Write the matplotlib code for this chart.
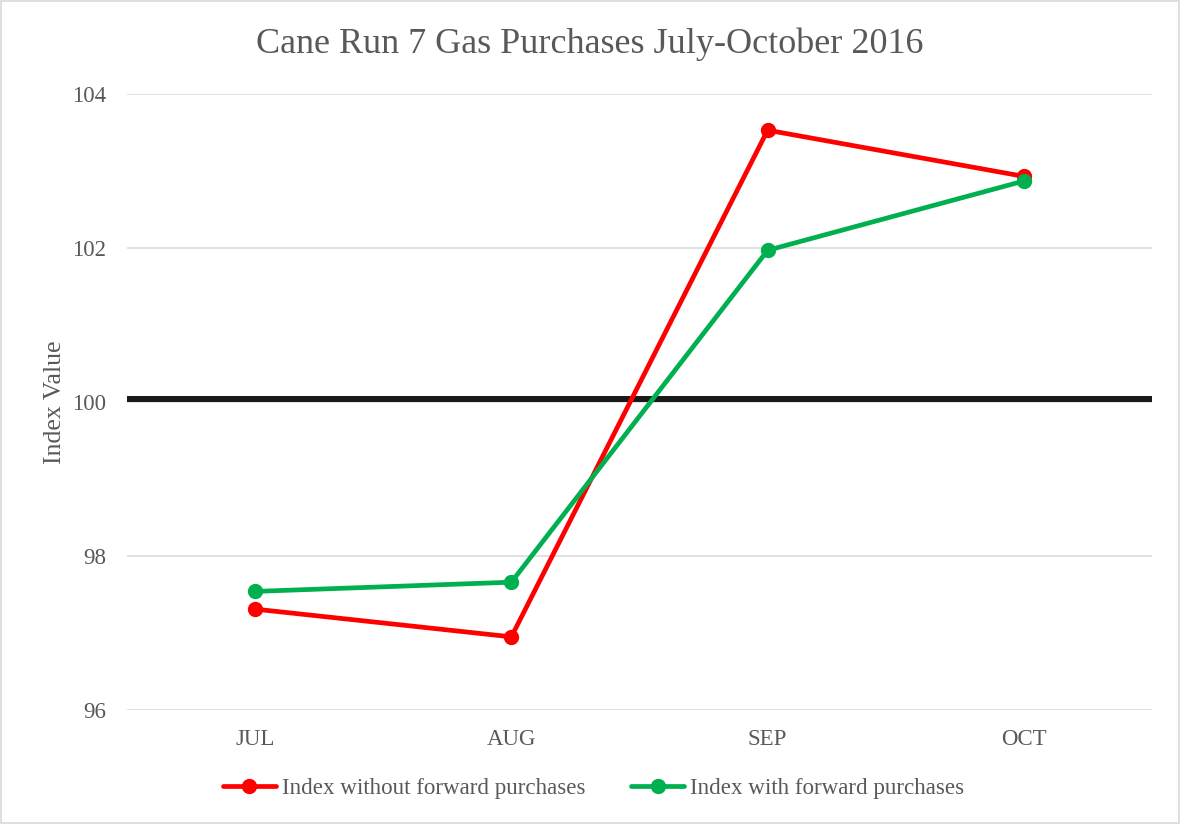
import matplotlib.pyplot as plt
from matplotlib.patches import Rectangle

months = ["JUL", "AUG", "SEP", "OCT"]
without_fwd = [97.31, 96.95, 103.53, 102.93]
with_fwd = [97.54, 97.66, 101.97, 102.87]
baseline = 100.04

plt.rcParams['font.family'] = ['Liberation Serif', 'DejaVu Serif']
txt = '#595959'

fig = plt.figure(figsize=(11.8, 8.24), dpi=100)
ax = fig.add_axes([127 / 1180, 1 - 710 / 824, (1152 - 127) / 1180, (710 - 94) / 824])

x = list(range(len(months)))
ax.axhline(baseline, color='#1a1a1a', linewidth=4.3, zorder=2)
ax.plot(x, without_fwd, color='#ff0000', linewidth=3.4, marker='o', markersize=10,
        label="Index without forward purchases", zorder=3, solid_capstyle='round')
ax.plot(x, with_fwd, color='#00b050', linewidth=3.4, marker='o', markersize=10,
        label="Index with forward purchases", zorder=4, solid_capstyle='round')

ax.set_xlim(-0.5, 3.5)
ax.set_ylim(96, 104)
ax.set_yticks([96, 98, 100, 102, 104])
ax.set_xticks(x)
ax.set_xticklabels(months)
ax.grid(axis='y', color='#d9d9d9', linewidth=1.1, zorder=0)
ax.set_axisbelow(True)
for s in ax.spines.values():
    s.set_visible(False)
ax.tick_params(axis='both', length=0, labelsize=16.5, labelcolor=txt)
ax.tick_params(axis='y', pad=15)
ax.tick_params(axis='x', pad=14)

ax.set_ylabel("Index Value", fontsize=18.5, color=txt, labelpad=4)
fig.suptitle("Cane Run 7 Gas Purchases July-October 2016", fontsize=26, color=txt,
             y=1 - 44 / 824, va='center')

leg = fig.legend(loc='center', bbox_to_anchor=(0.503, 1 - 788 / 824), ncol=2, frameon=False,
                 fontsize=16.6, handlelength=2.3, columnspacing=2.0, handletextpad=0.25)
for t in leg.get_texts():
    t.set_color(txt)

fig.patches.append(Rectangle((0.001, 0.001), 0.998, 0.998, transform=fig.transFigure,
                             fill=False, edgecolor='#d9d9d9', linewidth=1.2))

fig.savefig("out.png", dpi=100)
